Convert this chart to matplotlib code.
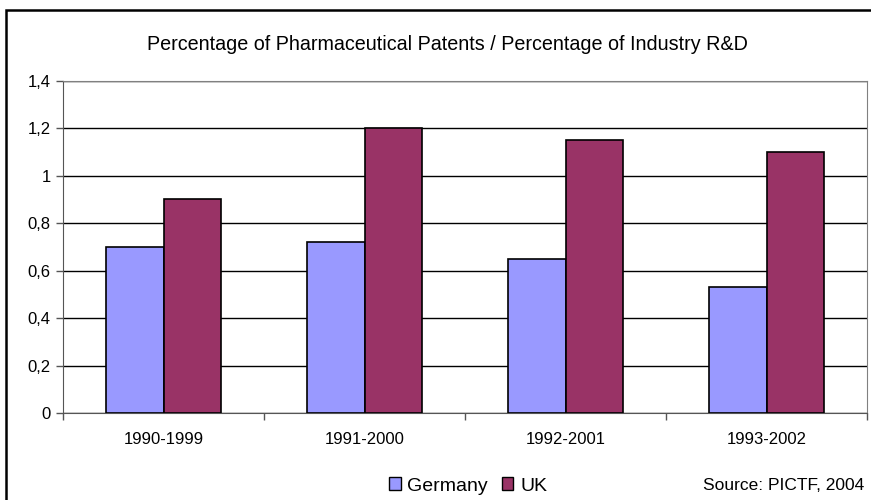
import matplotlib.pyplot as plt
import numpy as np
from matplotlib.patches import Rectangle, Patch
from matplotlib import ticker

periods = ['1990-1999', '1991-2000', '1992-2001', '1993-2002']
germany = [0.70, 0.72, 0.65, 0.53]
uk = [0.90, 1.20, 1.15, 1.10]

W, H = 871, 500
plt.rcParams['font.family'] = ['Liberation Sans', 'DejaVu Sans']

fig = plt.figure(figsize=(W / 100, H / 100), dpi=100)
# рамка вокруг всего рисунка
fig.patches.append(Rectangle((6 / W, -0.1), 1.1, 1 - 10 / H + 0.1, transform=fig.transFigure,
                             fill=False, edgecolor='black', linewidth=1.8))

ax = fig.add_axes([63 / W, (H - 413) / H, (867 - 63) / W, (413 - 80.7) / H])
x = np.arange(len(periods))
bw = 1 / 3.5
ax.bar(x - bw / 2, germany, bw, color='#9999FF', edgecolor='black', linewidth=1.2, zorder=3)
ax.bar(x + bw / 2, uk, bw, color='#993366', edgecolor='black', linewidth=1.2, zorder=3)

ax.set_xlim(-0.5, len(periods) - 0.5)
ax.set_ylim(0, 1.4)
ax.set_yticks(np.arange(0, 1.41, 0.2))
ax.yaxis.set_major_formatter(ticker.FuncFormatter(lambda v, p: ('%g' % round(v, 1)).replace('.', ',')))
ax.yaxis.grid(True, color='black', linewidth=1, zorder=0)
ax.set_axisbelow(True)

ax.set_xticks(x)
ax.set_xticklabels(periods)
ax.set_xticks(np.arange(-0.5, len(periods)), minor=True)
ax.tick_params(axis='x', which='major', length=0, pad=14, labelsize=12)
ax.tick_params(axis='x', which='minor', length=5, width=1, color='#555555')
ax.tick_params(axis='y', length=5, width=1, color='#555555', labelsize=12, pad=4)

for s in ['top', 'right']:
    ax.spines[s].set_color('#808080')
for s in ['left', 'bottom']:
    ax.spines[s].set_color('#555555')

fig.text(447 / W, 1 - 45 / H, 'Percentage of Pharmaceutical Patents / Percentage of Industry R&D',
         ha='center', va='center', fontsize=14.2)

handles = [Patch(facecolor='#9999FF', edgecolor='black'), Patch(facecolor='#993366', edgecolor='black')]
fig.legend(handles, ['Germany', 'UK'], loc='center', bbox_to_anchor=(468 / W, 1 - 486 / H),
           ncol=2, frameon=False, fontsize=14, handlelength=0.6, handleheight=0.6,
           handletextpad=0.35, columnspacing=0.7)

fig.text(864 / W, 1 - 485 / H, 'Source: PICTF, 2004', ha='right', va='center', fontsize=12.5)

fig.savefig('out.png', dpi=100)
